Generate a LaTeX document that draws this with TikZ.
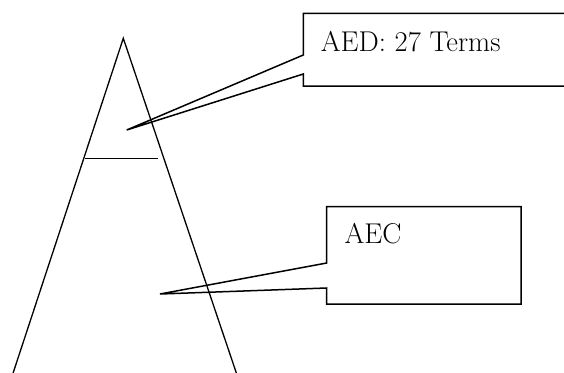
\documentclass[tikz,border=0pt]{standalone}
\begin{document}
\begin{tikzpicture}[x=1pt,y=-1pt,
  outline/.style={line width=1.3pt,line join=miter},
  callout/.style={line width=1.5pt,line join=miter},
  label/.style={anchor=base west,inner sep=0pt,font=\fontsize{28.6}{34}\selectfont}]
  \useasboundingbox (0,0) rectangle (564,372);
  \clip (0,0) rectangle (564,372);

  % the triangle and its dividing line
  \coordinate (apex) at (123.3,38.3);
  \coordinate (baseL) at (10.8,380);
  \coordinate (baseR) at (238.7,380);
  \draw[outline] (baseL) -- (apex) -- (baseR);
  \coordinate (divL) at (85,158.3);
  \coordinate (divR) at (157.7,158.3);
  \draw[outline] (divL) -- (divR);

  % upper callout
  \coordinate (tipA) at (126.7,130);
  \draw[callout] (303.3,55) -- (303.3,13.3) -- (580,13.3) -- (580,86)
    -- (303.3,86) -- (303.3,74) -- (tipA) -- cycle;
  \node[label] (aed) at (320.7,51.7) {AED: 27 Terms};

  % lower callout
  \coordinate (tipB) at (160,294);
  \draw[callout] (326.7,263) -- (326.7,206.7) -- (521,206.7) -- (521,304)
    -- (326.7,304) -- (326.7,288) -- (tipB) -- cycle;
  \node[label] (aec) at (344.3,243.3) {AEC};
\end{tikzpicture}
\end{document}
